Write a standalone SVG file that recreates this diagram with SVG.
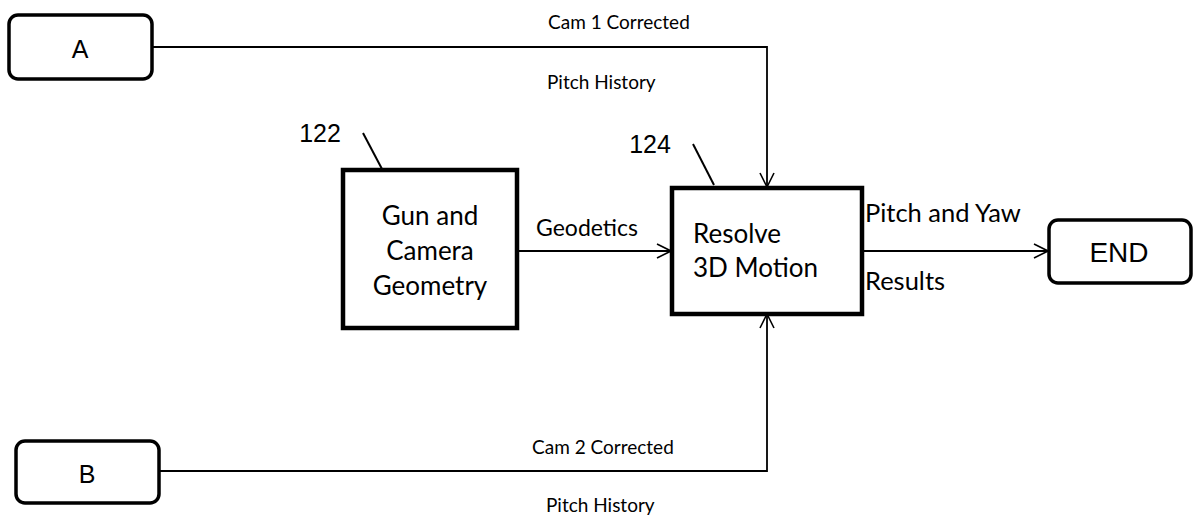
<svg xmlns="http://www.w3.org/2000/svg" width="1204" height="524" viewBox="0 0 1204 524">
<defs>
<marker id="arr" viewBox="0 0 16 16" refX="15" refY="8" markerWidth="16" markerHeight="16" markerUnits="userSpaceOnUse" orient="auto">
<path d="M1,1 L15,8 L1,15" fill="none" stroke="#000" stroke-width="1.6"/>
</marker>
<style>
.term{fill:#fff;stroke:#000;stroke-width:3.5}
.proc{fill:#fff;stroke:#000;stroke-width:4.5}
.line{fill:none;stroke:#000;stroke-width:1.8}
.lead{fill:none;stroke:#000;stroke-width:2}
.ar{font-family:"Liberation Sans",Arial,sans-serif;fill:#000}
.cal{font-family:Lato,"Open Sans",sans-serif;fill:#000}
.small{font-size:19px}
</style>
</defs>
<rect width="1204" height="524" fill="#fff"/>
<g id="connectors">
<polyline class="line" points="153,47 767,47 767,187" marker-end="url(#arr)"/>
<polyline class="line" points="159,471 767,471 767,314" marker-end="url(#arr)"/>
<line class="line" x1="517" y1="251" x2="671" y2="251" marker-end="url(#arr)"/>
<line class="line" x1="862" y1="251" x2="1048" y2="251" marker-end="url(#arr)"/>
<text class="cal small" x="548" y="29">Cam 1 Corrected</text>
<text class="cal small" x="547" y="89">Pitch History</text>
<text class="cal small" x="532" y="454">Cam 2 Corrected</text>
<text class="cal small" x="546" y="512">Pitch History</text>
<text class="cal" x="587" y="236" font-size="23" text-anchor="middle">Geodetics</text>
<text class="cal" x="865" y="222" font-size="25.5">Pitch and Yaw</text>
<text class="cal" x="865" y="290" font-size="25.5">Results</text>
</g>
<g id="nodeA">
<rect class="term" x="9" y="15" width="143" height="64" rx="9"/>
<text class="ar" x="80" y="58" font-size="25" text-anchor="middle">A</text>
</g>
<g id="nodeB">
<rect class="term" x="16" y="441" width="143" height="62" rx="9"/>
<text class="ar" x="87" y="483" font-size="25" text-anchor="middle">B</text>
</g>
<g id="node122">
<rect class="proc" x="343" y="170" width="174" height="158"/>
<text class="cal" x="430" y="225" font-size="26" text-anchor="middle">Gun and</text>
<text class="cal" x="430" y="260" font-size="26" text-anchor="middle">Camera</text>
<text class="cal" x="430" y="295" font-size="26" text-anchor="middle">Geometry</text>
<text class="ar" x="320" y="142" font-size="25" text-anchor="middle">122</text>
<line class="lead" x1="363" y1="133" x2="382" y2="169"/>
</g>
<g id="node124">
<rect class="proc" x="672" y="188" width="190" height="126"/>
<text class="cal" x="693" y="243" font-size="26">Resolve</text>
<text class="cal" x="693" y="277" font-size="26">3D Motion</text>
<text class="ar" x="650" y="153" font-size="25" text-anchor="middle">124</text>
<line class="lead" x1="693" y1="144" x2="714" y2="185"/>
</g>
<g id="nodeEND">
<rect class="term" x="1049" y="220" width="142" height="63" rx="9"/>
<text class="ar" x="1119" y="262" font-size="28" text-anchor="middle">END</text>
</g>
</svg>
